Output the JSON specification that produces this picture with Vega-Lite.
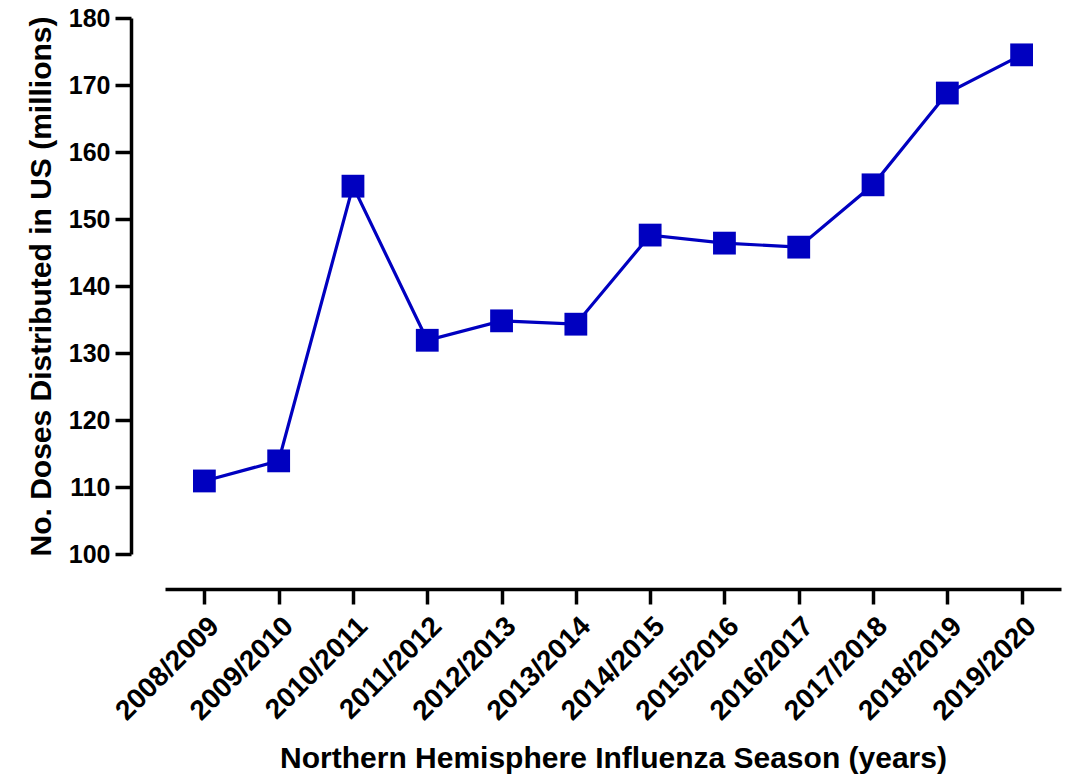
{
  "$schema": "https://vega.github.io/schema/vega-lite/v6.json",
  "width": 896,
  "height": 536,
  "autosize": {"type": "none"},
  "padding": {"left": 165, "top": 18, "right": 10, "bottom": 220},
  "background": "white",
  "config": {"view": {"stroke": null}, "font": "Liberation Sans"},
  "data": {"values": [
    {"season": "2008/2009", "doses": 110.9},
    {"season": "2009/2010", "doses": 113.9},
    {"season": "2010/2011", "doses": 154.9},
    {"season": "2011/2012", "doses": 131.9},
    {"season": "2012/2013", "doses": 134.8},
    {"season": "2013/2014", "doses": 134.3},
    {"season": "2014/2015", "doses": 147.6},
    {"season": "2015/2016", "doses": 146.4},
    {"season": "2016/2017", "doses": 145.8},
    {"season": "2017/2018", "doses": 155.1},
    {"season": "2018/2019", "doses": 168.8},
    {"season": "2019/2020", "doses": 174.5}
  ]},
  "encoding": {
    "x": {
      "field": "season", "type": "ordinal", "sort": null,
      "scale": {"type": "point", "padding": 0.53},
      "axis": {
        "title": "Northern Hemisphere Influenza Season (years)",
        "titleFont": "Liberation Sans", "titleFontSize": 30, "titleFontWeight": "bold", "titleColor": "black",
        "titlePadding": 18,
        "labelAngle": -45, "labelFont": "Liberation Sans", "labelFontSize": 28, "labelFontWeight": "bold", "labelColor": "black",
        "labelPadding": 8,
        "offset": 35, "domainColor": "black", "domainWidth": 3.5, "tickColor": "black", "tickWidth": 3.5, "tickSize": 15,
        "grid": false
      }
    },
    "y": {
      "field": "doses", "type": "quantitative",
      "scale": {"domain": [100, 180], "nice": false, "zero": false},
      "axis": {
        "title": "No. Doses Distributed in US (millions)",
        "titleFont": "Liberation Sans", "titleFontSize": 30, "titleFontWeight": "bold", "titleColor": "black",
        "titlePadding": 12,
        "values": [100, 110, 120, 130, 140, 150, 160, 170, 180],
        "labelFont": "Liberation Sans", "labelFontSize": 25, "labelFontWeight": "bold", "labelColor": "black",
        "labelPadding": 5,
        "offset": 34, "domainColor": "black", "domainWidth": 3.5, "tickColor": "black", "tickWidth": 3.5, "tickSize": 16,
        "grid": false
      }
    }
  },
  "layer": [
    {"mark": {"type": "line", "color": "#0000C0", "strokeWidth": 3.2}},
    {"mark": {"type": "point", "shape": "square", "filled": true, "color": "#0000C0", "opacity": 1, "size": 520}}
  ]
}
